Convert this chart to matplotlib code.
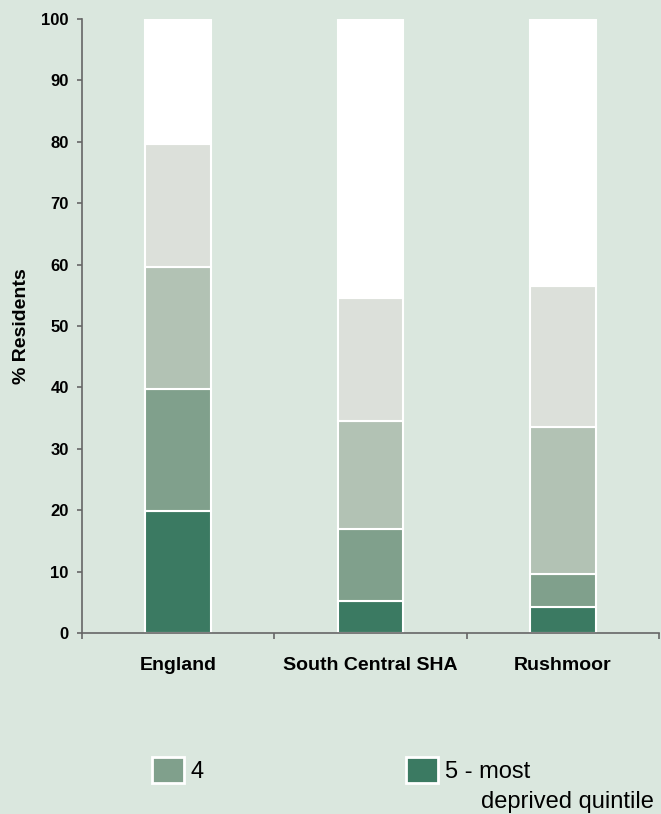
import matplotlib.pyplot as plt
import numpy as np

plt.rcParams['font.family'] = ['Liberation Sans', 'DejaVu Sans']

# data
areas = ["England", "South Central SHA", "Rushmoor"]
q5 = [19.8, 5.2, 4.3]
q4 = [19.9, 11.7, 5.3]
q3 = [19.9, 17.7, 24.0]
q2 = [20.0, 20.0, 22.9]
q1 = [20.4, 45.4, 43.5]
colors = ["#3b7a62", "#80a08c", "#b2c2b4", "#dce0da", "#ffffff"]

bg = "#dae7de"
axis_col = "#666666"

fig = plt.figure(figsize=(6.61, 8.14), dpi=100, facecolor=bg)
ax = fig.add_axes([0.124, 0.2224, 0.873, 0.7543], facecolor=bg)

x = np.arange(len(areas))
bottom = np.zeros(len(areas))
bars = []
for vals, col in zip([q5, q4, q3, q2, q1], colors):
    b = ax.bar(x, vals, width=0.34, bottom=bottom, color=col,
               edgecolor="white", linewidth=1.5, zorder=2)
    bars.append(b)
    bottom += np.array(vals)

ax.set_xlim(-0.5, 2.5)
ax.set_ylim(0, 100)
ax.set_yticks(range(0, 101, 10))
ax.set_xticks(x)
ax.set_xticklabels(areas, fontsize=14, fontweight="bold")
ax.set_xticks([-0.5, 0.5, 1.5, 2.5], minor=True)
ax.tick_params(axis="x", which="major", length=0, pad=17)
ax.tick_params(axis="x", which="minor", length=4.3, color=axis_col, width=1.2)
ax.tick_params(axis="y", length=3.6, color=axis_col, width=1.2, labelsize=12, pad=6)
for lab in ax.get_yticklabels():
    lab.set_fontweight("bold")

for s in ["top", "right"]:
    ax.spines[s].set_visible(False)
for s in ["left", "bottom"]:
    ax.spines[s].set_color(axis_col)
    ax.spines[s].set_linewidth(1.2)

ax.set_ylabel("% Residents", fontsize=14, fontweight="bold", labelpad=8)

# legend: only the two entries visible in the reference
leg_kw = dict(loc="center left", frameon=False, fontsize=17, handlelength=1.36,
              handleheight=1.36, handletextpad=0.28, borderpad=0, borderaxespad=0)
leg4 = fig.legend([bars[1]], ["4"], bbox_to_anchor=(0.230, 0.054), **leg_kw)
leg5 = fig.legend([bars[0]], ["5 - most"], bbox_to_anchor=(0.614, 0.054), **leg_kw)
for lg in (leg4, leg5):
    for h in lg.legend_handles:
        h.set_linewidth(2)
fig.text(481 / 661, 1 - 808 / 814, "deprived quintile", fontsize=17,
         ha="left", va="baseline")

fig.savefig("out.png", dpi=100, facecolor=bg)
